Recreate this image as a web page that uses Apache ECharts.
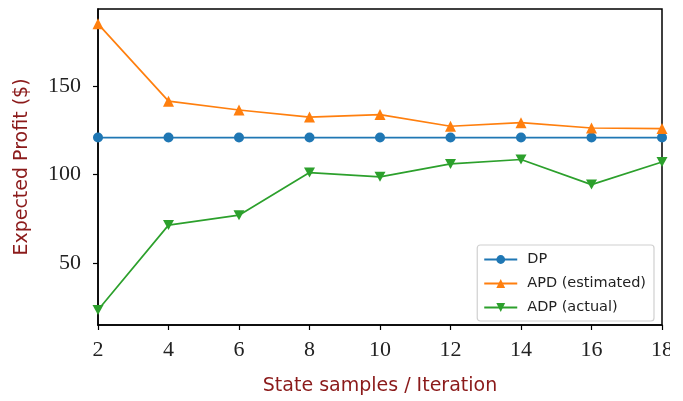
<!DOCTYPE html>
<html><head><meta charset="utf-8">
<script src="https://cdn.jsdelivr.net/npm/echarts@6/dist/echarts.min.js"></script>
<style>html,body{margin:0;padding:0;background:#fff}#c{width:683px;height:401px}</style>
</head><body><div id="c"></div>
<script>
const xValues = [2, 4, 6, 8, 10, 12, 14, 16, 18];
const dpValues = [121, 121, 121, 121, 121, 121, 121, 121, 121];
const apdValues = [185.3, 141.6, 136.6, 132.6, 134.0, 127.4, 129.4, 126.4, 126.1];
const adpValues = [23.5, 71.5, 77.1, 101.2, 98.8, 106.1, 108.6, 94.4, 107.2];
const yTicks = [50, 100, 150];
const xTicks = [2, 4, 6, 8, 10, 12, 14, 16, 18];
const seriesNames = ['DP', 'APD (estimated)', 'ADP (actual)'];

const pair = v => xValues.map((x, i) => [x, v[i]]);
const chart = echarts.init(document.getElementById('c'), null, {renderer: 'canvas'});
const serifFont = 'Liberation Serif';
const sansFont = 'DejaVu Sans';
const axisCommon = {
  axisLine: {show: true, onZero: false, lineStyle: {color: '#000', width: 1.5}},
  axisTick: {show: true, inside: false, length: 5, lineStyle: {color: '#000', width: 1.2}},
  splitLine: {show: false},
  nameTextStyle: {color: '#8b1a1a', fontFamily: sansFont, fontSize: 19}
};
chart.setOption({
  animation: false,
  grid: {left: 98, right: 21, top: 9, bottom: 73, containLabel: false,
         show: true, borderColor: '#000', borderWidth: 1.5},
  xAxis: Object.assign({}, axisCommon, {
    type: 'value', min: 2, max: 18, interval: 2,
    name: 'State samples / Iteration', nameLocation: 'middle', nameGap: 52,
    axisLabel: {color: '#222', fontFamily: serifFont, fontSize: 22, margin: 14,
                customValues: xTicks, formatter: v => String(v)},
    axisTick: Object.assign({}, axisCommon.axisTick, {customValues: xTicks})
  }),
  yAxis: Object.assign({}, axisCommon, {
    type: 'value', min: 15, max: 193.7,
    name: 'Expected Profit ($)', nameLocation: 'middle', nameGap: 66,
    axisLabel: {color: '#222', fontFamily: serifFont, fontSize: 22, margin: 17,
                customValues: yTicks, formatter: v => String(v)},
    axisTick: Object.assign({}, axisCommon.axisTick, {customValues: yTicks})
  }),
  legend: {
    orient: 'vertical', right: 29, bottom: 80,
    itemWidth: 33, itemHeight: 11, itemGap: 9,
    padding: [7, 8, 6, 6],
    borderColor: '#d0d0d0', borderWidth: 1.2, borderRadius: 3,
    backgroundColor: '#fff',
    textStyle: {fontFamily: sansFont, fontSize: 14.5, color: '#222', padding: [0, 0, 0, 5]},
    data: seriesNames
  },
  series: [
    {name: seriesNames[0], type: 'line', data: pair(dpValues), color: '#1f77b4',
     symbol: 'circle', symbolSize: 10, lineStyle: {width: 1.7}, clip: false},
    {name: seriesNames[1], type: 'line', data: pair(apdValues), color: '#ff7f0e',
     symbol: 'triangle', symbolSize: 11, lineStyle: {width: 1.7}, clip: false},
    {name: seriesNames[2], type: 'line', data: pair(adpValues), color: '#2ca02c',
     symbol: 'path://M0,0 L10,0 L5,9 Z', symbolSize: [11, 10], lineStyle: {width: 1.7}, clip: false}
  ],
  graphic: [{type: 'rect', shape: {x: 670, y: 0, width: 13, height: 401},
             style: {fill: '#fff'}, z: 100}]
});
</script></body></html>
